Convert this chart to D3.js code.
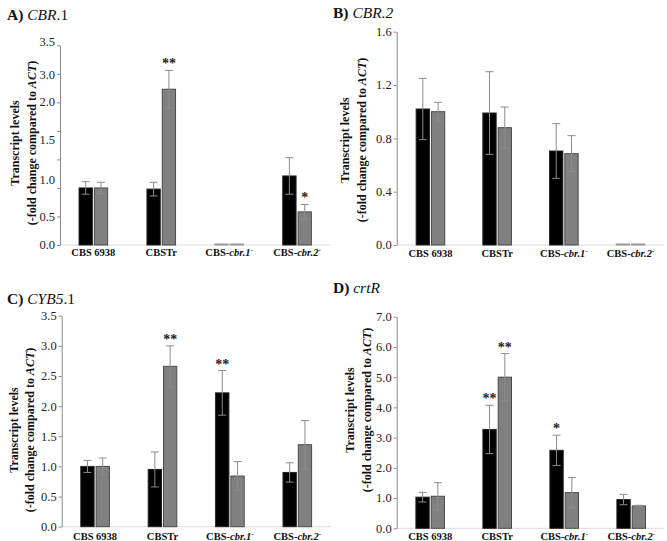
<!DOCTYPE html>
<html>
<head>
<meta charset="utf-8">
<script src="https://cdn.jsdelivr.net/npm/d3@7"></script>
<style>
  html, body { margin: 0; padding: 0; background: #fff; }
  svg { display: block; }
  text { font-family: "Liberation Serif", "Times New Roman", serif; }
</style>
</head>
<body>
<svg id="chart" width="667" height="541"></svg>
<script>
// ---------------- DATA ----------------
const categories = ["CBS 6938", "CBSTr", "CBS-cbr.1", "CBS-cbr.2"];
const seriesKeys = ["black", "gray"];

// Panel A: CBR.1
const aBlack    = [1.00, 0.98, 0.00, 1.21];
const aBlackErr = [0.11, 0.12, 0.00, 0.32];
const aGray     = [1.00, 2.73, 0.00, 0.58];
const aGrayErr  = [0.10, 0.33, 0.00, 0.13];
const aSigBlack = ["", "", "", ""];
const aSigGray  = ["", "**", "", "*"];
const aTicks    = [0, 0.5, 1.0, 1.5, 2.0, 2.5, 3.0, 3.5];
const aTickLabels   = ["0.0", "0.5", "1.0", "1.5", "2.0", "3.0", "3.5"];
const aTickLabelAt  = [0.0, 0.5, 1.14, 1.84, 2.51, 2.99, 3.57];

// Panel B: CBR.2
const bBlack    = [1.02, 0.99, 0.705, 0.00];
const bBlackErr = [0.23, 0.31, 0.205, 0.00];
const bGray     = [1.00, 0.88, 0.685, 0.00];
const bGrayErr  = [0.07, 0.155, 0.135, 0.00];
const bSigBlack = ["", "", "", ""];
const bSigGray  = ["", "", "", ""];
const bTicks    = [0, 0.4, 0.8, 1.2, 1.6];
const bTickLabels  = ["0.0", "0.4", "0.8", "1.2", "1.6"];
const bTickLabelAt = [0, 0.4, 0.8, 1.2, 1.6];

// Panel C: CYB5.1
const cBlack    = [1.00, 0.95, 2.22, 0.90];
const cBlackErr = [0.10, 0.29, 0.37, 0.16];
const cGray     = [1.00, 2.66, 0.84, 1.36];
const cGrayErr  = [0.14, 0.34, 0.24, 0.40];
const cSigBlack = ["", "", "**", ""];
const cSigGray  = ["", "**", "", ""];
const cTicks    = [0, 0.5, 1.0, 1.5, 2.0, 2.5, 3.0, 3.5];
const cTickLabels  = ["0.0", "0.5", "1.0", "1.5", "2.0", "2.5", "3.0", "3.5"];
const cTickLabelAt = [0, 0.5, 1.0, 1.5, 2.0, 2.5, 3.0, 3.5];

// Panel D: crtR
const dBlack    = [1.03, 3.27, 2.58, 0.95];
const dBlackErr = [0.16, 0.80, 0.50, 0.17];
const dGray     = [1.06, 5.00, 1.18, 0.74];
const dGrayErr  = [0.45, 0.78, 0.50, 0.02];
const dSigBlack = ["", "**", "*", ""];
const dSigGray  = ["", "**", "", ""];
const dTicks    = [0, 1, 2, 3, 4, 5, 6, 7];
const dTickLabels  = ["0.0", "1.0", "2.0", "3.0", "4.0", "5.0", "6.0", "7.0"];
const dTickLabelAt = [0, 1, 2, 3, 4, 5, 6, 7];

// ---------------- LAYOUT ----------------
const panels = [
  { letter: "A)", gene: [["CBR", true], [".1", false]],
    black: aBlack, blackErr: aBlackErr, gray: aGray, grayErr: aGrayErr,
    sigBlack: aSigBlack, sigGray: aSigGray,
    ticks: aTicks, tickLabels: aTickLabels, tickLabelAt: aTickLabelAt,
    ymax: 3.5, axisX: 60, y0: 245, y1: 45.3, bandStart: 59.4, step: 67.9,
    titleX: 7, titleY: 20, ytX1: 15, ytX2: 32, ytY: 143, catY: 255.5 },
  { letter: "B)", gene: [["CBR.2", true]],
    black: bBlack, blackErr: bBlackErr, gray: bGray, grayErr: bGrayErr,
    sigBlack: bSigBlack, sigGray: bSigGray,
    ticks: bTicks, tickLabels: bTickLabels, tickLabelAt: bTickLabelAt,
    ymax: 1.6, axisX: 396.7, y0: 245, y1: 31.7, bandStart: 397.1, step: 66.7,
    titleX: 333, titleY: 18, ytX1: 345, ytX2: 362, ytY: 140, catY: 257 },
  { letter: "C)", gene: [["CYB5", true], [".1", false]],
    black: cBlack, blackErr: cBlackErr, gray: cGray, grayErr: cGrayErr,
    sigBlack: cSigBlack, sigGray: cSigGray,
    ticks: cTicks, tickLabels: cTickLabels, tickLabelAt: cTickLabelAt,
    ymax: 3.5, axisX: 61.7, y0: 526.7, y1: 315.7, bandStart: 61.4, step: 67.4,
    titleX: 7, titleY: 304, ytX1: 13.5, ytX2: 29.5, ytY: 430, catY: 540 },
  { letter: "D)", gene: [["crtR", true]],
    black: dBlack, blackErr: dBlackErr, gray: dGray, grayErr: dGrayErr,
    sigBlack: dSigBlack, sigGray: dSigGray,
    ticks: dTicks, tickLabels: dTickLabels, tickLabelAt: dTickLabelAt,
    ymax: 7, axisX: 396.7, y0: 528.3, y1: 316.7, bandStart: 396.7, step: 67.0,
    titleX: 333, titleY: 293, ytX1: 350, ytX2: 366.5, ytY: 410, catY: 540 }
];

const svg = d3.select("#chart");
const AXIS_COLOR = "#8a8a8a";
const ERR_COLOR = "#8c8c8c";
const fills = { black: "#000000", gray: "#808080" };
const strokes = { black: "#222222", gray: "#4a4a4a" };

panels.forEach(p => {
  const g = svg.append("g");
  const y = d3.scaleLinear().domain([0, p.ymax]).range([p.y0, p.y1]);
  const x0 = d3.scaleBand().domain(categories)
    .range([p.bandStart, p.bandStart + p.step * categories.length])
    .paddingInner(0).paddingOuter(0);
  const x1 = d3.scaleBand().domain(seriesKeys).range([-14.3, 14.3]).paddingInner(0.13);

  // light baseline
  g.append("line")
    .attr("x1", p.axisX).attr("x2", p.bandStart + p.step * categories.length)
    .attr("y1", y(0)).attr("y2", y(0))
    .attr("stroke", "#dcdcdc").attr("stroke-width", 1);

  // y axis (tick marks via d3 axis)
  const axis = d3.axisLeft(y).tickValues(p.ticks).tickFormat("").tickSize(3).tickSizeOuter(0);
  const ag = g.append("g").attr("transform", `translate(${p.axisX},0)`).call(axis);
  ag.selectAll("path, line").attr("stroke", AXIS_COLOR);

  // tick labels
  g.selectAll(".tl").data(p.tickLabels).enter().append("text")
    .attr("x", p.axisX - 5)
    .attr("y", (d, i) => y(p.tickLabelAt[i]))
    .attr("dy", "0.35em")
    .attr("text-anchor", "end")
    .attr("font-size", 12.5)
    .attr("fill", "#222")
    .text(d => d);

  // bars data
  const rows = categories.map((c, i) => seriesKeys.map(k => ({
    cat: c, key: k,
    v: k === "black" ? p.black[i] : p.gray[i],
    e: k === "black" ? p.blackErr[i] : p.grayErr[i],
    s: k === "black" ? p.sigBlack[i] : p.sigGray[i]
  }))).flat();

  const cx = d => x0(d.cat) + x0.bandwidth() / 2 + x1(d.key);
  const bw = x1.bandwidth();

  g.selectAll(".bar").data(rows).enter().append("rect")
    .attr("x", d => cx(d))
    .attr("width", bw)
    .attr("y", d => d.v > 0 ? y(d.v) : y(0) - 1)
    .attr("height", d => d.v > 0 ? y(0) - y(d.v) : 1)
    .attr("fill", d => d.v > 0 ? fills[d.key] : "#999")
    .attr("stroke", d => d.v > 0 ? strokes[d.key] : "#999")
    .attr("stroke-width", 1);

  // error bars
  const eb = rows.filter(d => d.e > 0);
  const mid = d => cx(d) + bw / 2;
  g.selectAll(".ev").data(eb).enter().append("line")
    .attr("x1", mid).attr("x2", mid)
    .attr("y1", d => y(d.v + d.e)).attr("y2", d => y(d.v - d.e))
    .attr("stroke", ERR_COLOR).attr("stroke-width", 1);
  ["+", "-"].forEach(sign => {
    g.selectAll(".cap" + (sign === "+" ? "t" : "b")).data(eb).enter().append("line")
      .attr("x1", d => mid(d) - 4).attr("x2", d => mid(d) + 4)
      .attr("y1", d => y(sign === "+" ? d.v + d.e : d.v - d.e))
      .attr("y2", d => y(sign === "+" ? d.v + d.e : d.v - d.e))
      .attr("stroke", ERR_COLOR).attr("stroke-width", 1);
  });

  // significance marks
  g.selectAll(".sig").data(rows.filter(d => d.s)).enter().append("text")
    .attr("x", mid)
    .attr("y", d => y(d.v + d.e) - 2)
    .attr("text-anchor", "middle")
    .attr("font-size", 14)
    .attr("font-weight", "bold")
    .attr("fill", "#222")
    .text(d => d.s);

  // category labels
  const cl = g.selectAll(".cat").data(categories).enter().append("text")
    .attr("x", d => x0(d) + x0.bandwidth() / 2)
    .attr("y", p.catY)
    .attr("text-anchor", "middle")
    .attr("font-size", 10.5)
    .attr("font-weight", "bold")
    .attr("fill", "#111");
  cl.each(function(d) {
    const t = d3.select(this);
    if (d.startsWith("CBS-")) {
      t.append("tspan").text("CBS-");
      t.append("tspan").attr("font-style", "italic").text(d.slice(4));
      t.append("tspan").attr("font-size", 7).attr("dy", -4).text("-");
    } else {
      t.text(d);
    }
  });

  // title
  const tt = g.append("text").attr("x", p.titleX).attr("y", p.titleY)
    .attr("font-size", 15.5).attr("fill", "#111");
  tt.append("tspan").attr("font-weight", "bold").text(p.letter + " ");
  p.gene.forEach(([s, it]) => {
    tt.append("tspan").attr("font-style", it ? "italic" : "normal").text(s);
  });

  // y axis title
  const ym = (p.ytX1 + p.ytX2) / 2;
  const yt = g.append("g").attr("transform", `translate(${ym},${p.ytY}) rotate(-90)`);
  yt.append("text").attr("x", 0).attr("y", p.ytX1 - ym).attr("dy", "0.35em")
    .attr("text-anchor", "middle").attr("font-size", 12).attr("font-weight", "bold")
    .attr("fill", "#111").text("Transcript levels");
  const l2 = yt.append("text").attr("x", 0).attr("y", p.ytX2 - ym).attr("dy", "0.35em")
    .attr("text-anchor", "middle").attr("font-size", 12).attr("font-weight", "bold")
    .attr("fill", "#111");
  l2.append("tspan").text("(-fold change compared to ");
  l2.append("tspan").attr("font-style", "italic").text("ACT");
  l2.append("tspan").text(")");
});
</script>
</body>
</html>
